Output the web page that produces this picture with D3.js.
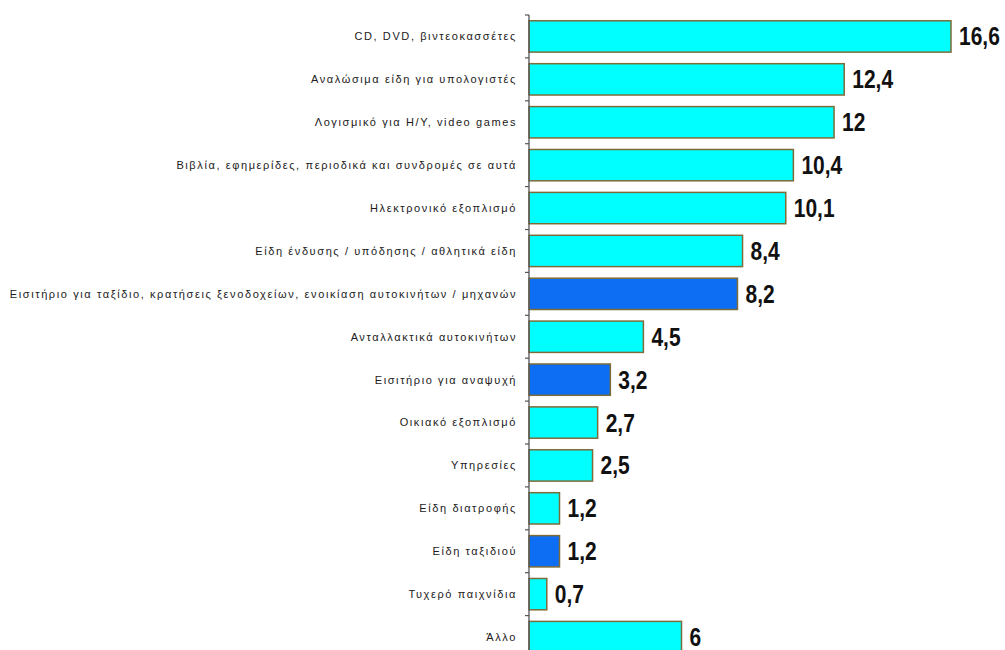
<!DOCTYPE html>
<html>
<head>
<meta charset="utf-8">
<script src="https://cdn.jsdelivr.net/npm/d3@7"></script>
<style>
  html, body { margin: 0; padding: 0; background: #fff; }
  svg { display: block; }
</style>
</head>
<body>
<svg id="chart" width="1005" height="650"></svg>
<script>
// Online purchases by product category (%)
const categories = [
  "CD, DVD, βιντεοκασσέτες",
  "Αναλώσιμα είδη για υπολογιστές",
  "Λογισμικό για Η/Υ, video games",
  "Βιβλία, εφημερίδες, περιοδικά και συνδρομές σε αυτά",
  "Ηλεκτρονικό εξοπλισμό",
  "Είδη ένδυσης / υπόδησης / αθλητικά είδη",
  "Εισιτήριο για ταξίδιο, κρατήσεις ξενοδοχείων, ενοικίαση αυτοκινήτων / μηχανών",
  "Ανταλλακτικά αυτοκινήτων",
  "Εισιτήριο για αναψυχή",
  "Οικιακό εξοπλισμό",
  "Υπηρεσίες",
  "Είδη διατροφής",
  "Είδη ταξιδιού",
  "Τυχερό παιχνίδια",
  "Άλλο"
];
const values = [16.6, 12.4, 12, 10.4, 10.1, 8.4, 8.2, 4.5, 3.2, 2.7, 2.5, 1.2, 1.2, 0.7, 6];
// travel / leisure related categories get the darker blue
const highlighted = [false, false, false, false, false, false, true, false, true, false, false, false, true, false, false];

const data = categories.map((c, i) => ({ cat: c, value: values[i], hi: highlighted[i] }));

const svg = d3.select("#chart");
const axisX = 529;
const plotTop = 15, rowStep = 42.9;

const x = d3.scaleLinear().domain([0, 16.6]).range([axisX, 951]);
const y = d3.scaleBand()
  .domain(categories)
  .range([plotTop, plotTop + rowStep * categories.length])
  .paddingInner(0.27)
  .paddingOuter(0.135);

const fmt = v => String(v).replace(".", ",");

// bars
svg.append("g").selectAll("rect")
  .data(data)
  .join("rect")
  .attr("x", x(0))
  .attr("y", d => y(d.cat))
  .attr("width", d => x(d.value) - x(0))
  .attr("height", y.bandwidth())
  .attr("fill", d => d.hi ? "#0d6ef4" : "#00ffff")
  .attr("stroke", "#7d6c38")
  .attr("stroke-width", 1.5);

// category axis line and ticks at band boundaries
const g = svg.append("g");
g.append("line")
  .attr("x1", axisX).attr("x2", axisX)
  .attr("y1", plotTop).attr("y2", 650)
  .attr("stroke", "#555").attr("stroke-width", 1.3);
g.selectAll("line.tick")
  .data(d3.range(categories.length + 1))
  .join("line")
  .attr("class", "tick")
  .attr("x1", axisX - 4).attr("x2", axisX)
  .attr("y1", i => plotTop + i * y.step())
  .attr("y2", i => plotTop + i * y.step())
  .attr("stroke", "#555").attr("stroke-width", 1.2);

// category labels
svg.append("g").selectAll("text")
  .data(data)
  .join("text")
  .attr("x", 517)
  .attr("y", d => y(d.cat) + y.bandwidth() / 2)
  .attr("dy", "0.35em")
  .attr("text-anchor", "end")
  .attr("font-family", "Liberation Sans, Arial, sans-serif")
  .attr("font-size", 11)
  .attr("letter-spacing", 1.6)
  .attr("fill", "#221a1a")
  .text(d => d.cat);

// value labels, horizontally condensed
svg.append("g").selectAll("text")
  .data(data)
  .join("text")
  .attr("transform", d => `translate(${x(d.value) + 8},${y(d.cat) + y.bandwidth() / 2}) scale(0.84,1)`)
  .attr("dy", "0.36em")
  .attr("font-family", "Liberation Sans, Arial, sans-serif")
  .attr("font-weight", "bold")
  .attr("font-size", 25)
  .attr("fill", "#111")
  .text(d => fmt(d.value));
</script>
</body>
</html>
